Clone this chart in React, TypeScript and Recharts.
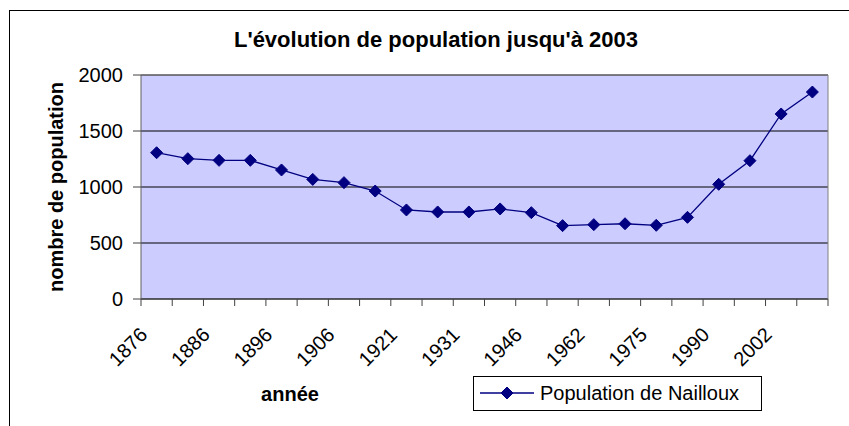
import { LineChart, Line, XAxis, YAxis, CartesianGrid, ReferenceLine } from "recharts";

const years = [
	"1876", "1881", "1886", "1891", "1896", "1901", "1906", "1911", "1921", "1926", "1931",
	"1936", "1946", "1954", "1962", "1968", "1975", "1982", "1990", "1999", "2002", "2003",
];
const population = [
	1306, 1253, 1238, 1238, 1152, 1068, 1039, 964, 795, 777, 777,
	804, 771, 655, 664, 672, 658, 729, 1024, 1235, 1652, 1848,
];
const yTicks = [0, 500, 1000, 1500, 2000];

const seriesName = "Population de Nailloux";
const title = "L'évolution de population jusqu'à 2003";
const xTitle = "année";
const yTitle = "nombre de population";

const data = years.map((year, i) => ({ year, value: population[i] }));

const FONT = "'Liberation Sans', Arial, sans-serif";
const NAVY = "#000080";

function Diamond({ cx, cy }: any) {
	if (cx == null || cy == null) return null;
	const r = 6;
	return (
		<polygon
			points={`${cx},${cy - r} ${cx + r},${cy} ${cx},${cy + r} ${cx - r},${cy}`}
			fill={NAVY}
			stroke={NAVY}
		/>
	);
}

function YearTick(props: any) {
	const { x, y, payload, index } = props;
	const off = payload?.offset ?? 0;
	const last = index === years.length - 1;
	const tx = x - 8;
	const ty = y + 37;
	return (
		<g>
			<line x1={x - off} y1={y} x2={x - off} y2={y + 7} stroke="#404040" />
			{last && <line x1={x + off} y1={y} x2={x + off} y2={y + 7} stroke="#404040" />}
			{index % 2 === 0 && (
				<text
					x={tx}
					y={ty}
					textAnchor="end"
					transform={`rotate(-45, ${tx}, ${ty})`}
					fontSize={20}
					fontFamily={FONT}
					fill="#000"
				>
					{payload.value}
				</text>
			)}
		</g>
	);
}

export default function App() {
	return (
		<div
			style={{
				position: "absolute",
				left: 0,
				top: 0,
				width: 849,
				height: 426,
				overflow: "hidden",
				background: "#fff",
				fontFamily: FONT,
			}}
		>
			<div
				style={{
					position: "absolute",
					left: 9,
					top: 10,
					right: 0,
					bottom: 0,
					borderTop: "1px solid #000",
					borderLeft: "1px solid #000",
				}}
			/>
			<LineChart
				width={849}
				height={426}
				data={data}
				margin={{ top: 75, right: 0, bottom: 0, left: 0 }}
			>
				<CartesianGrid
					vertical={false}
					stroke="#000"
					fill="#CCCCFF"
					fillOpacity={1}
					yAxisId="left"
				/>
				<XAxis
					dataKey="year"
					scale="band"
					height={127}
					interval={0}
					tickLine={false}
					tickSize={0}
					tickMargin={0}
					axisLine={{ stroke: "#404040" }}
					tick={<YearTick />}
				/>
				<YAxis
					yAxisId="left"
					width={141}
					domain={[0, 2000]}
					ticks={yTicks}
					interval={0}
					tickSize={8}
					tickMargin={10}
					axisLine={{ stroke: "#606060" }}
					tickLine={{ stroke: "#404040" }}
					tick={{ fontSize: 20, fill: "#000", fontFamily: FONT }}
					label={{
						value: yTitle,
						angle: -90,
						position: "center",
						dx: -15,
						style: { fontSize: 20, fontWeight: "bold", fill: "#000", fontFamily: FONT },
					}}
				/>
				<YAxis
					yAxisId="right"
					orientation="right"
					width={21}
					domain={[0, 2000]}
					tick={false}
					tickLine={false}
					axisLine={{ stroke: "#808080" }}
				/>
				<ReferenceLine yAxisId="left" y={2000} stroke="#808080" />
				<Line
					yAxisId="left"
					dataKey="value"
					name={seriesName}
					stroke={NAVY}
					strokeWidth={1.3}
					dot={<Diamond />}
					activeDot={false}
					isAnimationActive={false}
				/>
			</LineChart>
			<svg
				width={849}
				height={426}
				style={{ position: "absolute", left: 0, top: 0, pointerEvents: "none" }}
				fontFamily={FONT}
			>
				<text x={436} y={47} textAnchor="middle" fontSize={22} fontWeight="bold" fill="#000">
					{title}
				</text>
				<text x={290} y={401} textAnchor="middle" fontSize={20} fontWeight="bold" fill="#000">
					{xTitle}
				</text>
				<rect x={473.5} y={376.5} width={288} height={34} fill="#fff" stroke="#000" />
				<line x1={480} y1={393} x2={534} y2={393} stroke={NAVY} strokeWidth={1.3} />
				<Diamond cx={507} cy={393} />
				<text x={540} y={400} fontSize={20} fill="#000">
					{seriesName}
				</text>
			</svg>
		</div>
	);
}
